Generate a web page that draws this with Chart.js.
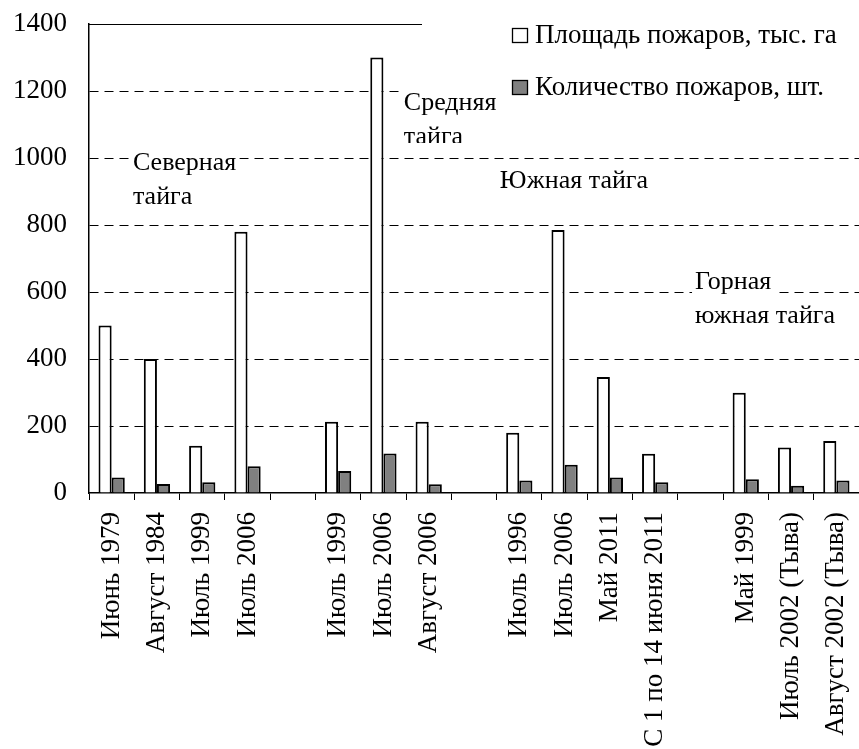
<!DOCTYPE html>
<html>
<head>
<meta charset="utf-8">
<script src="https://cdn.jsdelivr.net/npm/chart.js@4.4.1/dist/chart.umd.min.js"></script>
<style>
  html, body { margin: 0; padding: 0; background: #fff; }
  #wrap { width: 859px; height: 749px; position: relative; }
</style>
</head>
<body>
<div id="wrap"><canvas id="c"></canvas></div>
<script>
/* Площадь и количество пожаров по подзонам тайги */
const CATEGORIES = [
  "Июнь 1979", "Август 1984", "Июль 1999", "Июль 2006", "",
  "Июль 1999", "Июль 2006", "Август 2006", "",
  "Июль 1996", "Июль 2006", "Май 2011", "С 1 по 14 июня 2011", "",
  "Май 1999", "Июль 2002 (Тыва)", "Август 2002 (Тыва)",
];
const PLOSHAD = [500, 400, 141, 780, null, 213, 1300, 213, null, 180, 785, 346, 117, null, 299, 136, 155];
const KOLICHESTVO = [46, 27, 32, 80, null, 66, 118, 26, null, 37, 84, 46, 32, null, 41, 22, 37];
const SERIES_LABELS = ["Площадь пожаров, тыс. га", "Количество пожаров, шт."];
const Y_MIN = 0, Y_MAX = 1400, Y_STEP = 200;

// подписи подзон: [индекс категории, значение по оси y, строки]
const ZONES = [
  { at: [0.47, 985], lines: ["Северная", "тайга"] },
  { at: [6.45, 1164], lines: ["Средняя", "тайга"], clipY: 1045 },
  { at: [8.57, 931], lines: ["Южная тайга"] },
  { at: [12.88, 630], lines: ["Горная", "южная тайга"] },
];

const FONT = "'Liberation Serif', 'Times New Roman', serif";
const GRAY = "#808080";

const overlay = {
  id: "overlay",
  afterDraw(chart) {
    const { ctx, chartArea: a, scales: { x, y } } = chart;
    ctx.save();
    // верхняя линия
    ctx.strokeStyle = "#000";
    ctx.lineWidth = 1;
    ctx.beginPath();
    ctx.moveTo(a.left, Math.round(a.top) + 0.5);
    ctx.lineTo(a.right, Math.round(a.top) + 0.5);
    ctx.stroke();

    // легенда
    ctx.fillStyle = "#fff";
    ctx.fillRect(422, 0, 437, 118);
    ctx.font = "27px " + FONT;
    ctx.textBaseline = "middle";
    const legendRows = [35, 87];
    legendRows.forEach((ly, i) => {
      ctx.fillStyle = i === 0 ? "#fff" : GRAY;
      ctx.fillRect(512, ly - 7, 15, 14);
      ctx.strokeStyle = "#000";
      ctx.lineWidth = 1.3;
      ctx.strokeRect(512.5, ly - 6.5, 15, 14);
      ctx.fillStyle = "#000";
      ctx.fillText(SERIES_LABELS[i], 535, ly + 1);
    });

    // подписи подзон
    ctx.font = "26px " + FONT;
    const lh = 34;
    ZONES.forEach(z => {
      const px = x.getPixelForValue(z.at[0]);
      const py = y.getPixelForValue(z.at[1]);
      ctx.save();
      if (z.clipY != null) {
        const cy = y.getPixelForValue(z.clipY);
        ctx.beginPath();
        ctx.rect(0, 0, chart.width, cy);
        ctx.clip();
      }
      z.lines.forEach((t, i) => {
        const w = ctx.measureText(t).width;
        const ty = py + i * lh;
        ctx.fillStyle = "#fff";
        ctx.fillRect(px - 3, ty - 13, w + 6, 26);
        ctx.fillStyle = "#000";
        ctx.fillText(t, px, ty);
      });
      ctx.restore();
    });
    ctx.restore();
  },
};

new Chart(document.getElementById("c"), {
  type: "bar",
  data: {
    labels: CATEGORIES,
    datasets: [
      {
        label: SERIES_LABELS[0],
        data: PLOSHAD,
        backgroundColor: "#fff",
        borderColor: "#000",
        borderWidth: 2,
        borderSkipped: "bottom",
      },
      {
        label: SERIES_LABELS[1],
        data: KOLICHESTVO,
        backgroundColor: GRAY,
        borderColor: "#000",
        borderWidth: 2,
        borderSkipped: "bottom",
      },
    ],
  },
  options: {
    responsive: true,
    maintainAspectRatio: false,
    animation: false,
    devicePixelRatio: 1,
    layout: { padding: { top: 24, right: 0, left: 0, bottom: 0 } },
    datasets: { bar: { categoryPercentage: 0.58, barPercentage: 1 } },
    plugins: { legend: { display: false }, tooltip: { enabled: false } },
    scales: {
      x: {
        offset: true,
        grid: {
          offset: true,
          drawOnChartArea: false,
          drawTicks: true,
          tickLength: 7,
          color: "#000",
          lineWidth: 1,
        },
        border: { display: true, color: "#000", width: 1.5 },
        ticks: {
          color: "#000",
          font: { family: FONT, size: 27 },
          minRotation: 90,
          maxRotation: 90,
          autoSkip: false,
          padding: 12,
        },
        afterFit(s) {
          s.height = 256;
          s.paddingLeft = 0;
          s.paddingRight = 0;
          s.paddingTop = 0;
          s.paddingBottom = 0;
        },
      },
      y: {
        min: Y_MIN,
        max: Y_MAX,
        ticks: {
          stepSize: Y_STEP,
          color: "#000",
          font: { family: FONT, size: 27 },
          padding: 22,
          callback: v => String(v),
        },
        grid: {
          drawTicks: false,
          color: ctx => (ctx.tick && (ctx.tick.value === Y_MAX || ctx.tick.value === Y_MIN)) ? "rgba(0,0,0,0)" : "#000",
          lineWidth: 1,
        },
        border: { display: true, color: "#000", width: 1.5, dash: [9, 6] },
        afterFit(s) {
          s.width = 89;
          s.paddingTop = 0;
          s.paddingBottom = 0;
        },
      },
    },
  },
  plugins: [overlay],
});
</script>
</body>
</html>
